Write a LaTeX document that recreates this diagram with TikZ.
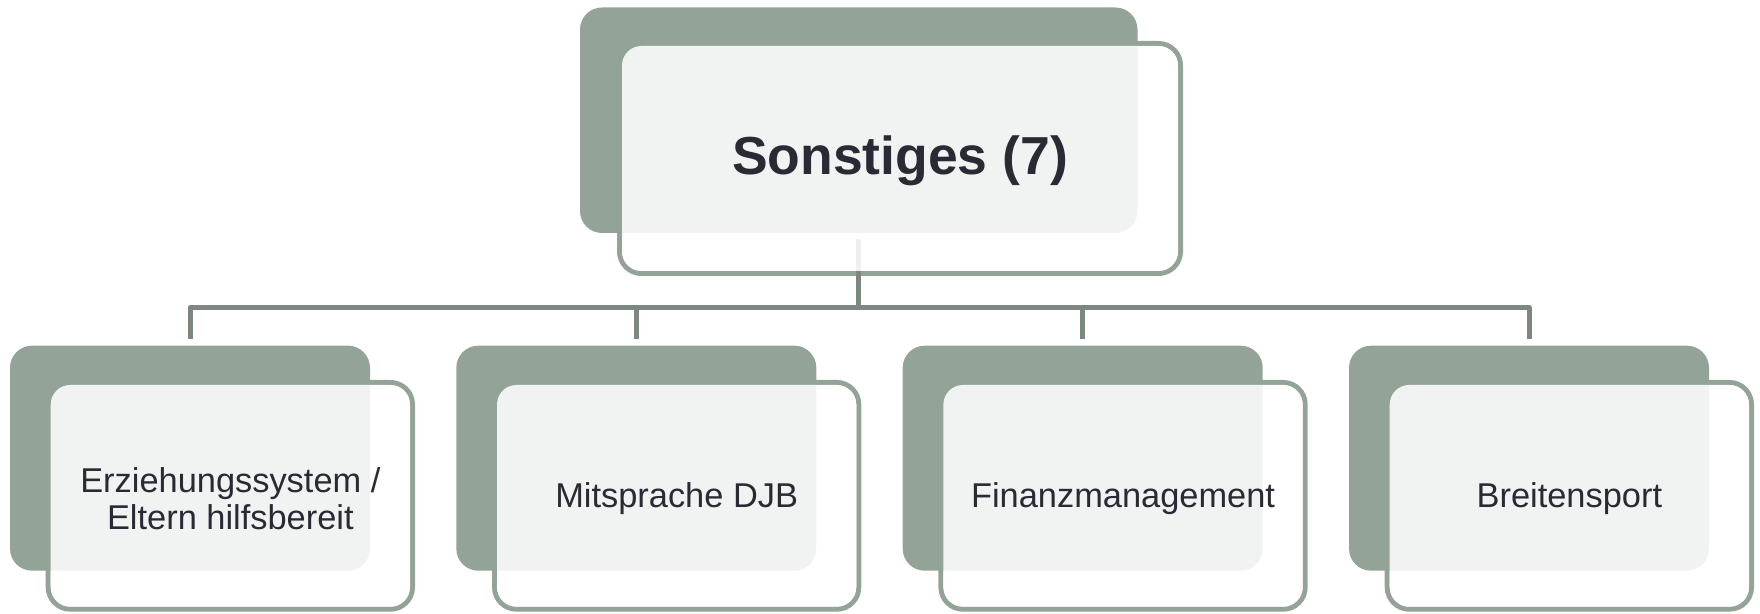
\documentclass[tikz,border=0pt]{standalone}
\usepackage{fontspec}
\setmainfont{Liberation Sans}
\usetikzlibrary{calc}
\definecolor{sage}{HTML}{94A398}
\definecolor{conncol}{HTML}{7B877F}
\definecolor{txtcol}{HTML}{2A2A34}
\begin{document}
\begin{tikzpicture}[x=1pt,y=1pt,
  backbox/.style={rectangle, fill=sage, rounded corners=22pt, inner sep=0pt, minimum width=360pt, minimum height=225pt},
  frontbox/.style={rectangle, draw=sage, line width=5pt, fill=white, rounded corners=22pt, inner sep=0pt, minimum width=364.3pt, minimum height=226.7pt},
  veil/.style={rectangle, fill=white, fill opacity=0.88, rounded corners=19.5pt, inner sep=0pt, minimum width=359.3pt, minimum height=221.7pt},
  lbl/.style={text=txtcol, inner sep=0pt, align=center, font=\fontsize{34.4}{37}\selectfont},
  conn/.style={draw=conncol, line width=5pt, line join=round}
]
\useasboundingbox (0,0) rectangle (1760,613);
% top group
\node[frontbox, minimum width=561pt, minimum height=230pt] (tf) at (900,454.5) {};
\node[backbox, minimum width=557.5pt, minimum height=225.5pt] (tb) at (858.75,492.75) {};
% children
\node[frontbox] (f1) at (230.35,117.15) {};
\node[backbox] (b1) at (190,154.8) {};
\node[frontbox] (f2) at (676.65,117.15) {};
\node[backbox] (b2) at (636.3,154.8) {};
\node[frontbox] (f3) at (1123.05,117.15) {};
\node[backbox] (b3) at (1082.7,154.8) {};
\node[frontbox] (f4) at (1569.35,117.15) {};
\node[backbox] (b4) at (1529,154.8) {};
% connectors
\coordinate (bus) at (0,305);
\draw[conn] ($(b1.north)+(0,6.7)$) |- (bus -| b4.north) -- ($(b4.north)+(0,6.7)$);
\draw[conn] ($(tb.south)+(0,-6)$) -- (tb.south |- bus);
\draw[conn] ($(b2.north)+(0,6.7)$) -- (b2.north |- bus);
\draw[conn] ($(b3.north)+(0,6.7)$) -- (b3.north |- bus);
% veils
\node[veil, minimum width=556pt, minimum height=225pt] (vt) at (tf.center) {};
\node[veil] (v1) at (f1.center) {};
\node[veil] (v2) at (f2.center) {};
\node[veil] (v3) at (f3.center) {};
\node[veil] (v4) at (f4.center) {};
% labels
\node[lbl, font=\fontsize{53.5}{60}\selectfont\bfseries] (tt) at ($(vt.center)+(0,-2)$) {Sonstiges (7)};
\node[lbl] (t1) at ($(v1.center)+(0,-2.5)$) {Erziehungssystem /\\Eltern hilfsbereit};
\node[lbl] (t2) at ($(v2.center)+(0,-3)$) {Mitsprache DJB};
\node[lbl] (t3) at ($(v3.center)+(0,-3)$) {Finanzmanagement};
\node[lbl] (t4) at ($(v4.center)+(0,-3)$) {Breitensport};
\end{tikzpicture}
\end{document}
